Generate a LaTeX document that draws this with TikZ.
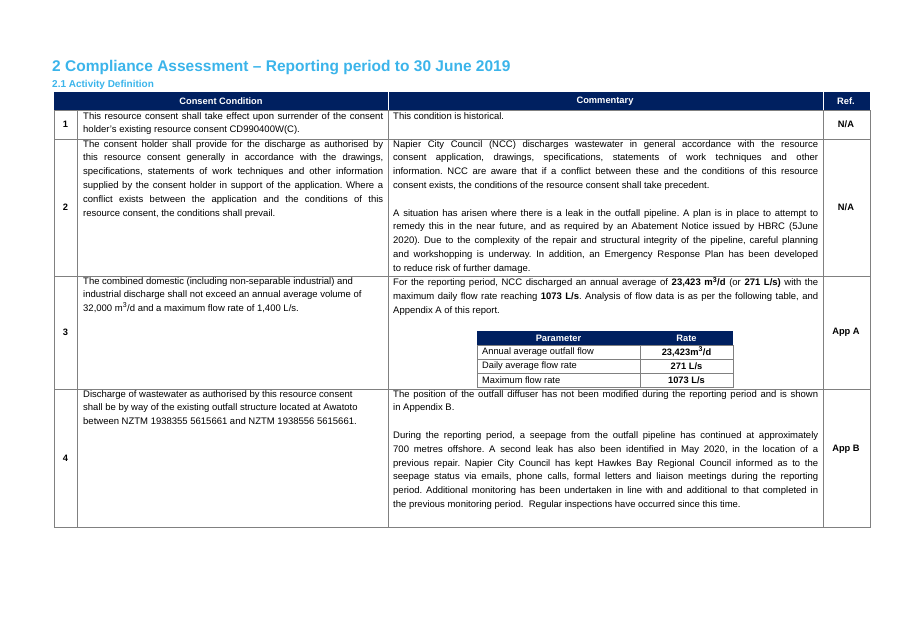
\documentclass[tikz,border=0pt]{standalone}
\usepackage{fontspec}
\setmainfont{Liberation Sans}
\frenchspacing
\definecolor{navy}{HTML}{002060}
\definecolor{ttl}{HTML}{3BB4EA}
\definecolor{grid}{HTML}{808080}
\newcommand{\cubed}{\textsuperscript{\scriptsize 3}}
\begin{document}
\begin{tikzpicture}[x=1pt,y=-1pt,
 body/.style={anchor=north west,inner sep=0pt,align=justify,font=\fontsize{9.5}{13.8}\selectfont},
 hd/.style={font=\fontsize{9.3}{11}\selectfont\bfseries,text=white,inner sep=0pt},
 bc/.style={font=\fontsize{9.3}{11}\selectfont\bfseries,inner sep=0pt},
 cell/.style={font=\fontsize{9.3}{11}\selectfont,inner sep=0pt}]
\useasboundingbox (0,0) rectangle (906,635);
\node[anchor=base west,inner sep=0pt,text=ttl,font=\fontsize{15.5}{18}\selectfont\bfseries] (t1) at (52,71) {2 Compliance Assessment – Reporting period to 30 June 2019};
\node[anchor=base west,inner sep=0pt,text=ttl,font=\fontsize{10}{12}\selectfont\bfseries] (t2) at (52,87) {2.1 Activity Definition};
% header
\fill[navy] (54,92) rectangle (870,110);
\node[hd] (h1) at (221,101) {Consent Condition};
\node[hd] (h2) at (605,101) {Commentary};
\node[hd] (h3) at (846,101) {Ref.};
\draw[white,line width=0.6pt] (388,92) -- (388,110) (823,92) -- (823,110);
% grid
\draw[grid,line width=0.6pt] (54,110) -- (54,527) -- (870,527) -- (870,110);
\foreach \y in {110,139,276,389} \draw[grid,line width=0.6pt] (54,\y) -- (870,\y);
\foreach \x in {77,388,823} \draw[grid,line width=0.6pt] (\x,110) -- (\x,527);
% numbers
\node[bc] (n1) at (65.5,124.5) {1};
\node[bc] (n2) at (65.5,207.5) {2};
\node[bc] (n3) at (65.5,332.5) {3};
\node[bc] (n4) at (65.5,458) {4};
\node[bc] (r1) at (846,124.5) {N/A};
\node[bc] (r2) at (846,207.5) {N/A};
\node[bc] (r3) at (846,332) {App A};
\node[bc] (r4) at (846,449) {App B};
% row 1
\node[body,text width=300pt] (c1) at (83,112) {This resource consent shall take effect upon surrender of the consent\linebreak holder’s existing resource consent CD990400W(C).};
\node[body,text width=425pt] (m1) at (393,112) {This condition is historical.};
% row 2
\node[body,text width=300pt] (c2) at (83,140) {The consent holder shall provide for the discharge as authorised by\linebreak this resource consent generally in accordance with the drawings,\linebreak specifications, statements of work techniques and other information\linebreak supplied by the consent holder in support of the application. Where a\linebreak conflict exists between the application and the conditions of this\linebreak resource consent, the conditions shall prevail.};
\node[body,text width=425pt] (m2) at (393,140) {Napier City Council (NCC) discharges wastewater in general accordance with the resource\linebreak consent application, drawings, specifications, statements of work techniques and other\linebreak information. NCC are aware that if a conflict between these and the conditions of this resource\linebreak consent exists, the conditions of the resource consent shall take precedent.\par\vspace{13.8pt}
A situation has arisen where there is a leak in the outfall pipeline. A plan is in place to attempt to\linebreak remedy this in the near future, and as required by an Abatement Notice issued by HBRC (5June\linebreak 2020). Due to the complexity of the repair and structural integrity of the pipeline, careful planning\linebreak and workshopping is underway. In addition, an Emergency Response Plan has been developed\linebreak to reduce risk of further damage.};
% row 3
\node[body,text width=300pt] (c3) at (83,277) {The combined domestic (including non-separable industrial) and\newline industrial discharge shall not exceed an annual average volume of\newline 32,000 m\cubed/d and a maximum flow rate of 1,400 L/s.};
\node[body,text width=425pt] (m3) at (393,277) {For the reporting period, NCC discharged an annual average of \textbf{23,423 m\cubed/d} (or \textbf{271 L/s)} with the\linebreak maximum daily flow rate reaching \textbf{1073 L/s}. Analysis of flow data is as per the following table, and\linebreak Appendix A of this report.};
% inner table
\fill[navy] (477,331) rectangle (733,345);
\draw[grid,line width=0.5pt] (477,345) rectangle (733,387) (477,359) -- (733,359) (477,373) -- (733,373) (640,345) -- (640,387);
\node[hd] (ph) at (558.5,338) {Parameter};
\node[hd] (rh) at (686.5,338) {Rate};
\node[cell,anchor=west] (p1) at (482,352) {Annual average outfall flow};
\node[cell,anchor=west] (p2) at (482,366) {Daily average flow rate};
\node[cell,anchor=west] (p3) at (482,380) {Maximum flow rate};
\node[bc] (v1) at (686.5,352) {23,423m\cubed/d};
\node[bc] (v2) at (686.5,366) {271 L/s};
\node[bc] (v3) at (686.5,380) {1073 L/s};
% row 4
\node[body,text width=300pt] (c4) at (83,390) {Discharge of wastewater as authorised by this resource consent\newline shall be by way of the existing outfall structure located at Awatoto\newline between NZTM 1938355 5615661 and NZTM 1938556 5615661.};
\node[body,text width=425pt] (m4) at (393,390) {The position of the outfall diffuser has not been modified during the reporting period and is shown\linebreak in Appendix B.\par\vspace{13.8pt}
During the reporting period, a seepage from the outfall pipeline has continued at approximately\linebreak 700 metres offshore. A second leak has also been identified in May 2020, in the location of a\linebreak previous repair. Napier City Council has kept Hawkes Bay Regional Council informed as to the\linebreak seepage status via emails, phone calls, formal letters and liaison meetings during the reporting\linebreak period. Additional monitoring has been undertaken in line with and additional to that completed in\linebreak the previous monitoring period.\ \ Regular inspections have occurred since this time.};
\end{tikzpicture}
\end{document}
